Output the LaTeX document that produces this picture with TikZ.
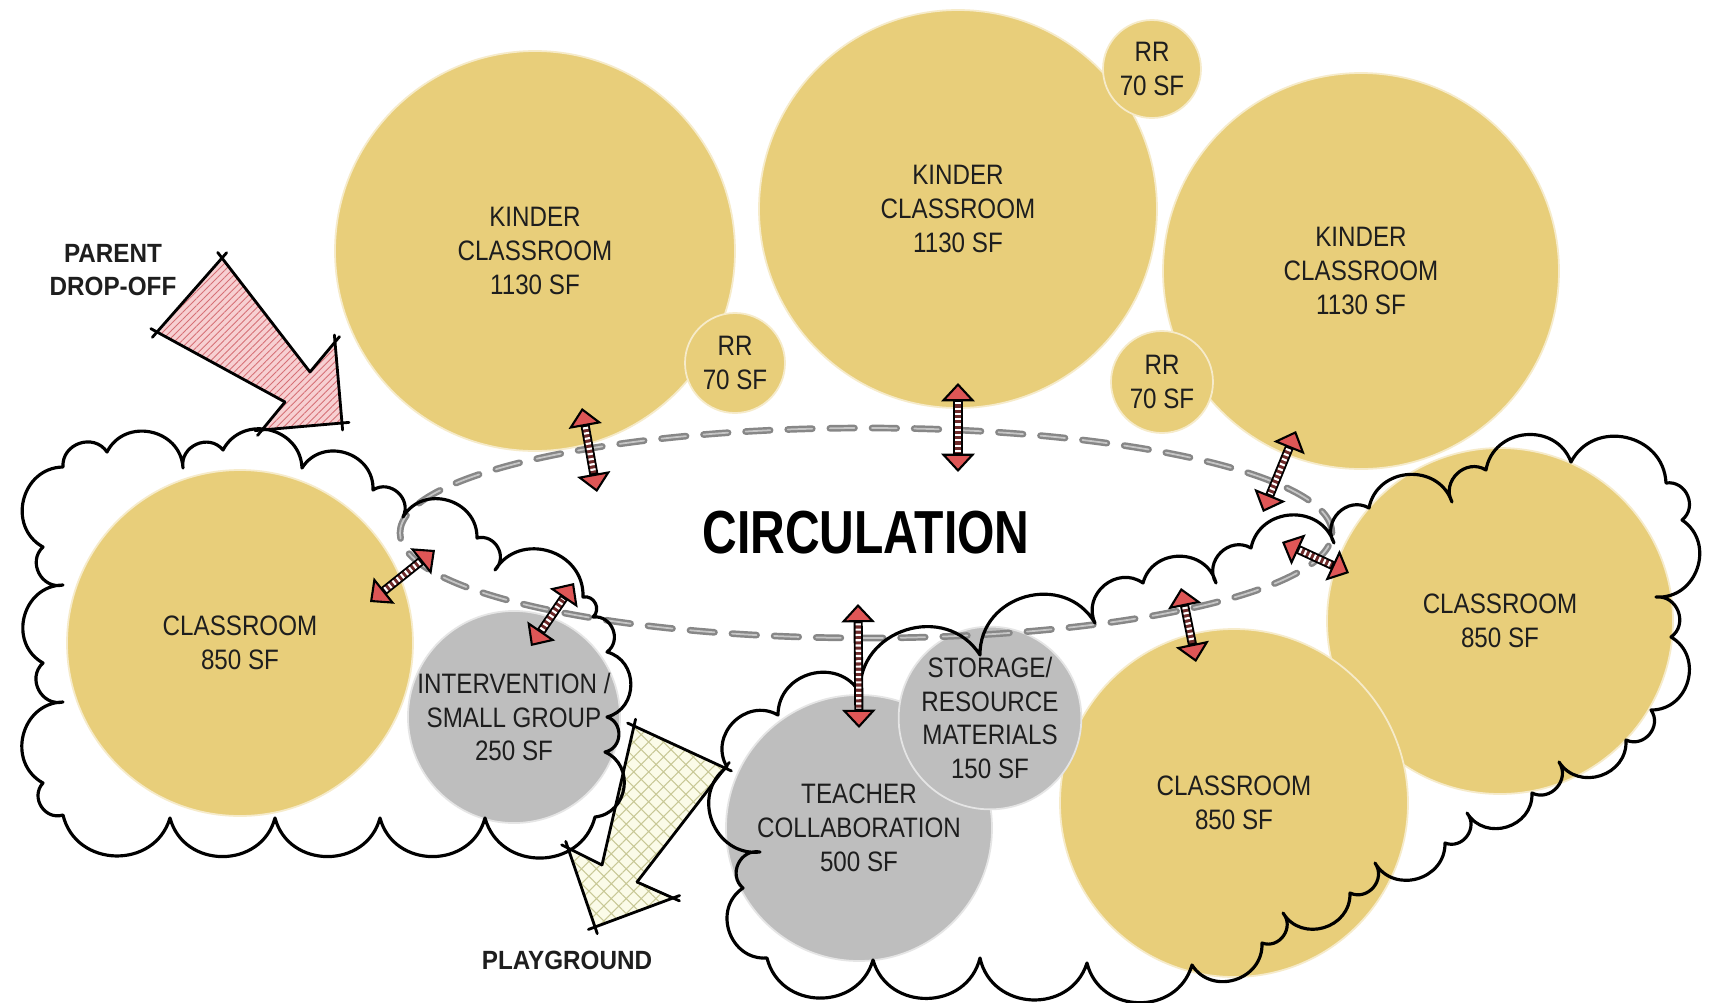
\documentclass[tikz,border=0pt]{standalone}
\usepackage{fontspec}
\setmainfont[FakeStretch=0.86]{Liberation Sans}
\newfontfamily\boldnarrow[FakeStretch=0.92]{Liberation Sans}
\newfontfamily\circnarrow[FakeStretch=0.79]{Liberation Sans}
\usepackage{tikz}
\usetikzlibrary{shapes.geometric, arrows.meta, patterns.meta, calc}
\definecolor{roomyellow}{RGB}{232,206,122}
\definecolor{roomgray}{RGB}{190,190,190}
\definecolor{headred}{RGB}{222,86,86}
\definecolor{railred}{RGB}{110,42,42}
\definecolor{dropfill}{RGB}{247,208,210}
\definecolor{drophatch}{RGB}{214,112,118}
\definecolor{playfill}{RGB}{251,251,232}
\definecolor{playhatch}{RGB}{200,200,150}
\definecolor{circgray}{RGB}{135,135,135}
\definecolor{inktext}{RGB}{30,30,30}
\tikzset{ladderhead/.tip={Triangle[width=9.5pt,length=5.2pt,fill=headred,color=black,line width=0.6pt]}}

\begin{document}
\begin{tikzpicture}[line cap=round,line join=round,x=0.1mm,y=-0.1mm,
  room/.style={circle,inner sep=0pt,fill=roomyellow,draw=white!60!roomyellow,line width=0.5pt,align=center,text=inktext,font=\fontsize{8}{9.6}\selectfont},
  grayroom/.style={room,fill=roomgray,draw=white!60!roomgray},
  corridor/.style={ellipse,inner sep=0pt,draw=circgray,line width=0.7pt,double=gray!45,double distance=0.5pt,dash pattern=on 7pt off 5pt,text=black,font=\circnarrow\bfseries\fontsize{17.3}{20}\selectfont},
  bump/.style={bend left=75,looseness=1.3},
  cloudline/.style={line width=0.9pt},
  sketch/.style={line width=0.8pt},
  ovs/.style={shorten <=-2pt},
  ove/.style={shorten >=-2pt},
  ovb/.style={shorten <=-2pt,shorten >=-2pt},
  tag/.style={align=center,text=inktext,font=\boldnarrow\bfseries\fontsize{7.5}{9.5}\selectfont},
  ladder/.style={draw=black,line width=2.6pt,line cap=butt,arrows={ladderhead-ladderhead},
    postaction={draw=railred,line width=1.5pt,-,shorten <=5.5pt,shorten >=5.5pt},
    postaction={draw=white,line width=1.5pt,-,dash pattern=on 0.6pt off 0.9pt,shorten <=5.5pt,shorten >=5.5pt}}]
\useasboundingbox (0,0) rectangle (1709,1003);
\fill[white] (0,0) rectangle (1709,1003);
% rooms
\node[room,minimum size=40mm] (kinderA) at (535,251) {KINDER\\CLASSROOM\\1130 SF};
\node[room,minimum size=39.8mm] (kinderB) at (958,209) {KINDER\\CLASSROOM\\1130 SF};
\node[room,minimum size=39.6mm] (kinderC) at (1361,271) {KINDER\\CLASSROOM\\1130 SF};
\node[room,minimum size=9.8mm] (rrA) at (1152,69) {RR\\70 SF};
\node[room,minimum size=10mm] (rrB) at (735,363) {RR\\70 SF};
\node[room,minimum size=10.2mm] (rrC) at (1162,382) {RR\\70 SF};
\node[room,minimum size=34.6mm] (classA) at (240,643) {CLASSROOM\\850 SF};
\node[room,minimum size=34.6mm] (classC) at (1500,621) {CLASSROOM\\850 SF};
\node[room,minimum size=34.8mm] (classB) at (1234,803) {CLASSROOM\\850 SF};
\node[grayroom,minimum size=18.6mm] (interv) at (514,717) {INTERVENTION /\\SMALL GROUP\\250 SF};
\node[grayroom,minimum size=26.6mm] (teacher) at (859,828) {TEACHER\\COLLABORATION\\500 SF};
\node[grayroom,minimum size=14.4mm] (storage) at (990,718) {STORAGE/\\RESOURCE\\MATERIALS\\150 SF};
\node[corridor,minimum width=93.2mm,minimum height=21mm] (circ) at (866,533) {CIRCULATION};
% parent drop-off arrow
\coordinate (pa1) at (222,258);
\coordinate (pa2) at (310,372);
\coordinate (pa3) at (335,342);
\coordinate (pa4) at (342,423);
\coordinate (pa5) at (262,430);
\coordinate (pa6) at (285,402);
\coordinate (pa7) at (157,332);
\fill[dropfill] (pa1) -- (pa2) -- (pa3) -- (pa4) -- (pa5) -- (pa6) -- (pa7) -- cycle;
\fill[pattern={Lines[angle=45,distance=1.4pt,line width=0.25pt]},pattern color=drophatch] (pa1) -- (pa2) -- (pa3) -- (pa4) -- (pa5) -- (pa6) -- (pa7) -- cycle;
\foreach \a/\b/\o in {pa1/pa2/ovs,pa2/pa3/ove,pa3/pa4/ovb,pa4/pa5/ovb,pa5/pa6/ovs,pa6/pa7/ove,pa7/pa1/ovb}
\draw[sketch,\o] (\a) -- (\b);
% playground arrow
\coordinate (pg1) at (634,726);
\coordinate (pg2) at (725,768);
\coordinate (pg3) at (637,882);
\coordinate (pg4) at (673,898);
\coordinate (pg5) at (595,927);
\coordinate (pg6) at (568,848);
\coordinate (pg7) at (602,865);
\fill[playfill] (pg1) -- (pg2) -- (pg3) -- (pg4) -- (pg5) -- (pg6) -- (pg7) -- cycle;
\fill[pattern={Hatch[angle=45,distance=3pt,line width=0.3pt]},pattern color=playhatch] (pg1) -- (pg2) -- (pg3) -- (pg4) -- (pg5) -- (pg6) -- (pg7) -- cycle;
\foreach \a/\b/\o in {pg1/pg2/ovb,pg2/pg3/ovs,pg3/pg4/ove,pg4/pg5/ovb,pg5/pg6/ovb,pg6/pg7/ovs,pg7/pg1/ove}
\draw[sketch,\o] (\a) -- (\b);
% clouds
\draw[cloudline] (63,467) \foreach \x/\y in {107/452,183/468,223/450,302/468,373/490,403/517,477/538,495/570,583/597,593/617,607/652,607/717,605/752,595/817,485/818,380/818,275/818,170/818,63/815,43/783,63/702,43/663,63/585,43/547,63/467} { to[bump] (\x,\y) } -- cycle;
\draw[cloudline] (727,767) \foreach \x/\y in {778/715,860/693,980/655,1095/623,1143/583,1216/583,1251/548,1334/543,1369/508,1452/502,1486/470,1571/462,1666/483,1682/520,1656/597,1671/637,1651/710,1626/740,1559/762,1532/793,1467/813,1445/843,1375/863,1350/893,1283/913,1262/943,1192/965,1087/963,980/958,873/960,767/958,743/888,760/852,727/767} { to[bump] (\x,\y) } -- cycle;
% labels
\node[tag] (parent) at (113,270) {PARENT\\DROP-OFF};
\node[tag] (playground) at (567,960) {PLAYGROUND};
% connectors
\coordinate (k1a) at (582,408);
\coordinate (k1b) at (597,492);
\coordinate (k2a) at (958,383);
\coordinate (k2b) at (958,472);
\coordinate (k3a) at (1296,431);
\coordinate (k3b) at (1263,512);
\coordinate (c1a) at (370,602);
\coordinate (c1b) at (435,550);
\coordinate (ina) at (531,646);
\coordinate (inb) at (574,583);
\coordinate (tca) at (858,604);
\coordinate (tcb) at (859,728);
\coordinate (c2a) at (1181,588);
\coordinate (c2b) at (1196,662);
\coordinate (c3a) at (1282,542);
\coordinate (c3b) at (1349,573);
\foreach \s/\t in {k1a/k1b,k2a/k2b,k3a/k3b,c1a/c1b,ina/inb,tca/tcb,c2a/c2b,c3a/c3b}
\draw[ladder] (\s) -- (\t);
\end{tikzpicture}
\end{document}
